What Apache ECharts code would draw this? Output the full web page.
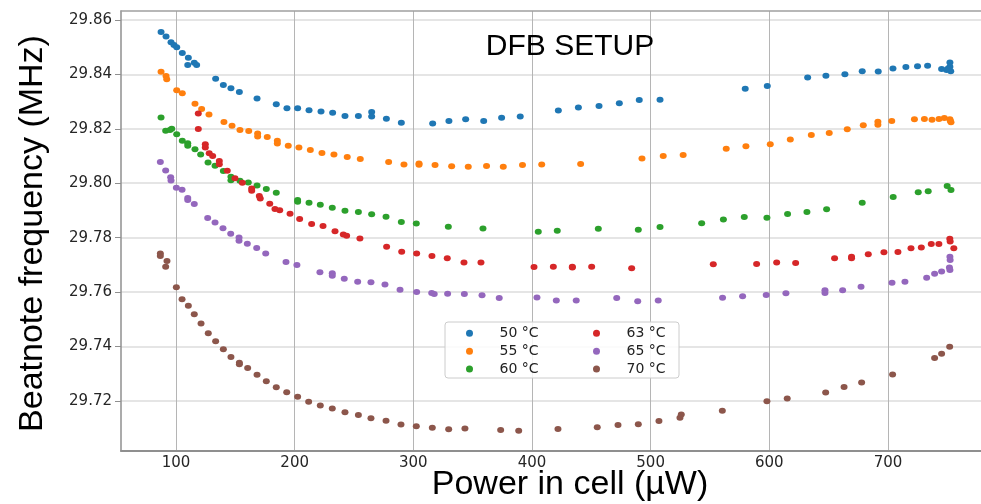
<!DOCTYPE html>
<html>
<head>
<meta charset="utf-8">
<script src="https://cdn.jsdelivr.net/npm/echarts@6/dist/echarts.min.js"></script>
<style>html,body{margin:0;padding:0;background:#fff}#c{width:981px;height:504px}</style>
</head>
<body>
<div id="c"></div>
<script>
const seriesNames = ['50 °C','55 °C','60 °C','63 °C','65 °C','70 °C'];
const xTicks = [100,200,300,400,500,600,700];
const yTicks = [29.72,29.74,29.76,29.78,29.80,29.82,29.84,29.86];

const s50 = [[87.4,29.8556],[91.6,29.8539],[95.8,29.8518],[98.3,29.8508],[100.6,29.8500],[105.3,29.8479],[110.4,29.8461],[109.9,29.8435],[115.4,29.8443],[117.4,29.8435],[133.4,29.8384],[139.9,29.8361],[146.3,29.8349],[153.4,29.8335],[168.3,29.8311],[184.5,29.8290],[193.5,29.8276],[202.5,29.8276],[212.1,29.8268],[222.2,29.8264],[232.0,29.8259],[242.4,29.8247],[253.7,29.8247],[264.9,29.8262],[264.9,29.8245],[277.3,29.8237],[289.9,29.8222],[316.3,29.8220],[330.0,29.8229],[344.1,29.8235],[359.3,29.8229],[374.4,29.8241],[390.1,29.8245],[422.2,29.8267],[439.1,29.8278],[456.5,29.8284],[473.6,29.8294],[490.4,29.8306],[507.9,29.8307],[579.7,29.8347],[598.3,29.8357],[632.3,29.8389],[647.7,29.8395],[663.7,29.8401],[678.3,29.8412],[691.8,29.8411],[704.2,29.8422],[715.1,29.8427],[724.9,29.8430],[733.4,29.8432],[745.2,29.8420],[749.4,29.8416],[752.2,29.8444],[752.2,29.8428],[752.9,29.8412],[750.7,29.8422]];
const s55 = [[87.4,29.8410],[91.6,29.8394],[92.2,29.8382],[100.6,29.8342],[105.3,29.8331],[116.0,29.8292],[121.6,29.8273],[127.8,29.8253],[140.4,29.8225],[147.2,29.8211],[153.9,29.8196],[161.3,29.8192],[168.8,29.8183],[168.8,29.8172],[176.9,29.8170],[185.4,29.8156],[185.4,29.8146],[194.6,29.8138],[203.6,29.8131],[213.2,29.8122],[223.0,29.8111],[233.1,29.8106],[244.3,29.8096],[255.3,29.8089],[279.2,29.8078],[292.1,29.8069],[304.8,29.8073],[304.8,29.8068],[318.3,29.8067],[332.3,29.8062],[346.3,29.8061],[361.7,29.8063],[375.8,29.8061],[392.0,29.8067],[408.2,29.8069],[441.0,29.8071],[492.7,29.8091],[510.6,29.8100],[527.4,29.8104],[563.7,29.8127],[580.3,29.8136],[600.8,29.8143],[617.7,29.8161],[635.4,29.8177],[650.5,29.8185],[665.7,29.8198],[679.2,29.8213],[691.5,29.8226],[691.5,29.8215],[703.2,29.8229],[722.3,29.8235],[730.7,29.8236],[737.1,29.8233],[743.0,29.8236],[747.5,29.8240],[752.2,29.8235],[753.1,29.8224],[752.5,29.8230]];
const s60 = [[87.4,29.8242],[91.3,29.8193],[94.9,29.8196],[96.4,29.8200],[100.6,29.8180],[105.3,29.8156],[109.9,29.8147],[109.9,29.8138],[116.0,29.8125],[120.8,29.8106],[127.0,29.8076],[132.9,29.8064],[139.9,29.8045],[146.3,29.8024],[146.3,29.8011],[153.9,29.8009],[160.9,29.8003],[168.3,29.7992],[176.1,29.7979],[184.5,29.7965],[202.5,29.7938],[202.5,29.7932],[212.1,29.7928],[221.6,29.7921],[231.7,29.7910],[242.4,29.7899],[253.7,29.7894],[264.9,29.7886],[277.0,29.7877],[289.9,29.7858],[302.5,29.7852],[329.5,29.7840],[358.7,29.7834],[405.3,29.7822],[421.3,29.7825],[455.9,29.7833],[489.6,29.7829],[507.9,29.7839],[543.0,29.7853],[561.3,29.7867],[578.9,29.7876],[598.0,29.7873],[615.4,29.7887],[631.7,29.7894],[648.3,29.7904],[678.3,29.7928],[704.4,29.7949],[725.5,29.7967],[733.9,29.7971],[749.9,29.7990],[753.1,29.7975]];
const s63 = [[118.8,29.8256],[118.8,29.8199],[124.7,29.8143],[124.7,29.8131],[128.0,29.8110],[130.9,29.8100],[136.5,29.8082],[136.5,29.8070],[143.2,29.8046],[149.7,29.8018],[155.9,29.8002],[163.8,29.7981],[163.8,29.7972],[170.2,29.7953],[171.0,29.7944],[179.0,29.7925],[183.4,29.7905],[187.4,29.7901],[196.1,29.7888],[204.2,29.7869],[214.3,29.7850],[223.9,29.7843],[234.0,29.7824],[241.0,29.7812],[243.8,29.7807],[255.0,29.7797],[277.5,29.7767],[290.2,29.7748],[302.8,29.7742],[315.7,29.7733],[328.6,29.7724],[342.7,29.7709],[357.0,29.7709],[401.7,29.7692],[418.0,29.7693],[434.0,29.7693],[434.0,29.7690],[450.3,29.7693],[484.0,29.7688],[552.8,29.7702],[589.3,29.7703],[606.2,29.7709],[622.2,29.7707],[655.0,29.7724],[669.3,29.7730],[669.3,29.7724],[683.4,29.7739],[696.6,29.7746],[708.4,29.7747],[719.4,29.7761],[728.1,29.7764],[736.5,29.7777],[742.9,29.7777],[752.1,29.7796],[752.4,29.7786],[755.5,29.7761]];
const s65 = [[86.8,29.8078],[91.3,29.8047],[95.5,29.8022],[95.8,29.8010],[100.3,29.7983],[105.1,29.7976],[109.9,29.7946],[109.9,29.7938],[115.4,29.7924],[126.7,29.7872],[132.9,29.7856],[139.6,29.7835],[146.1,29.7814],[153.1,29.7801],[153.1,29.7789],[160.1,29.7778],[168.0,29.7762],[175.6,29.7742],[192.7,29.7711],[201.9,29.7700],[221.3,29.7673],[231.7,29.7669],[231.7,29.7660],[241.8,29.7649],[253.1,29.7638],[264.3,29.7636],[276.1,29.7628],[288.8,29.7609],[302.8,29.7600],[315.5,29.7597],[317.6,29.7593],[328.9,29.7594],[343.0,29.7593],[357.9,29.7588],[372.4,29.7578],[404.2,29.7580],[420.5,29.7569],[437.3,29.7569],[471.4,29.7578],[489.1,29.7566],[506.4,29.7569],[560.6,29.7579],[577.5,29.7585],[597.4,29.7589],[614.0,29.7596],[646.9,29.7607],[646.9,29.7597],[661.8,29.7607],[677.3,29.7620],[703.4,29.7634],[714.3,29.7638],[732.6,29.7653],[739.3,29.7667],[745.2,29.7676],[752.2,29.7681],[752.2,29.7730],[752.4,29.7718],[751.8,29.7690]];
const s70 = [[86.8,29.7742],[86.8,29.7733],[92.4,29.7714],[91.3,29.7693],[100.3,29.7618],[105.1,29.7574],[110.4,29.7550],[115.4,29.7519],[121.1,29.7485],[127.2,29.7449],[133.4,29.7419],[139.9,29.7390],[146.3,29.7361],[153.4,29.7340],[153.4,29.7335],[160.4,29.7321],[168.3,29.7296],[176.1,29.7272],[184.5,29.7250],[193.3,29.7232],[202.5,29.7215],[211.8,29.7197],[221.6,29.7183],[231.7,29.7172],[242.4,29.7158],[253.7,29.7148],[264.3,29.7136],[277.0,29.7127],[289.6,29.7113],[302.5,29.7107],[316.0,29.7101],[329.8,29.7096],[343.5,29.7099],[373.6,29.7093],[388.8,29.7090],[421.9,29.7097],[455.0,29.7103],[472.5,29.7112],[489.6,29.7114],[507.0,29.7126],[524.7,29.7138],[525.8,29.7150],[560.4,29.7164],[598.0,29.7199],[615.1,29.7209],[647.5,29.7231],[663.0,29.7251],[677.8,29.7268],[703.9,29.7297],[739.3,29.7358],[745.2,29.7373],[752.0,29.7399]];

const allData = [s50, s55, s60, s63, s65, s70];
const colors = ['#1f77b4','#ff7f0e','#2ca02c','#d62728','#9467bd','#8c564b'];

const chart = echarts.init(document.getElementById('c'), null, {renderer:'canvas'});
const tickFont = 'DejaVu Sans';

const legendCommon = {
  orient: 'vertical', icon: 'circle', itemWidth: 50, itemHeight: 7, itemGap: 3.9,
  textStyle: {fontFamily: tickFont, fontSize: 14, color: '#222', lineHeight: 14},
  top: 321.3, z: 5, selectedMode: false
};

chart.setOption({
  animation: false,
  backgroundColor: '#fff',
  color: colors,
  grid: {left: 121, right: 0, top: 11, bottom: 53, containLabel: false},
  xAxis: [{
    type: 'value', min: 53.65, max: 778.4,
    axisLine: {show: true, lineStyle: {color: '#8f8f8f', width: 2}},
    axisTick: {show: false, customValues: xTicks},
    axisLabel: {customValues: xTicks, fontFamily: tickFont, fontSize: 15, color: '#262626', margin: 5},
    splitLine: {show: true, lineStyle: {color: '#b5b5b5', width: 1}}
  }, {
    type: 'value', position: 'top', min: 53.65, max: 778.4,
    axisLine: {show: true, onZero: false, lineStyle: {color: '#a0a0a0', width: 1.5}},
    axisTick: {show: false}, axisLabel: {show: false}, splitLine: {show: false}
  }],
  yAxis: {
    type: 'value', min: 29.7016, max: 29.8633,
    axisLine: {show: true, lineStyle: {color: '#8f8f8f', width: 1.5}},
    axisTick: {show: true, customValues: yTicks, length: 6, lineStyle: {color: '#8f8f8f', width: 1}},
    axisLabel: {customValues: yTicks, fontFamily: tickFont, fontSize: 15, color: '#262626', margin: 9,
      formatter: v => v.toFixed(2)},
    splitLine: {show: true, lineStyle: {color: '#dcdcdc', width: 1.5}}
  },
  legend: [
    Object.assign({}, legendCommon, {left: 461, data: seriesNames.slice(0,3)}),
    Object.assign({}, legendCommon, {left: 588, data: seriesNames.slice(3,6)})
  ],
  graphic: [
    {type: 'rect', z: 3, shape: {x: 445, y: 322, width: 234, height: 56, r: 3},
      style: {fill: 'rgba(255,255,255,0.85)', stroke: '#cccccc', lineWidth: 1}},
    {type: 'text', z: 10, x: 570, y: 47, style: {text: 'DFB SETUP', font: '30px "Liberation Sans"', fill: '#000', textAlign: 'center', textVerticalAlign: 'middle'}},
    {type: 'text', z: 10, x: 570, y: 485, style: {text: 'Power in cell (µW)', font: '34px "Liberation Sans"', fill: '#000', textAlign: 'center', textVerticalAlign: 'middle'}},
    {type: 'text', z: 10, x: 33, y: 233.5, rotation: Math.PI/2, style: {text: 'Beatnote frequency (MHz)', font: '34px "Liberation Sans"', fill: '#000', textAlign: 'center', textVerticalAlign: 'middle'}}
  ],
  series: allData.map((d, i) => ({
    name: seriesNames[i], type: 'scatter', data: d, symbol: 'circle', symbolSize: [7, 6],
    itemStyle: {color: colors[i], opacity: 1}, emphasis: {disabled: true}
  }))
});
</script>
</body>
</html>
